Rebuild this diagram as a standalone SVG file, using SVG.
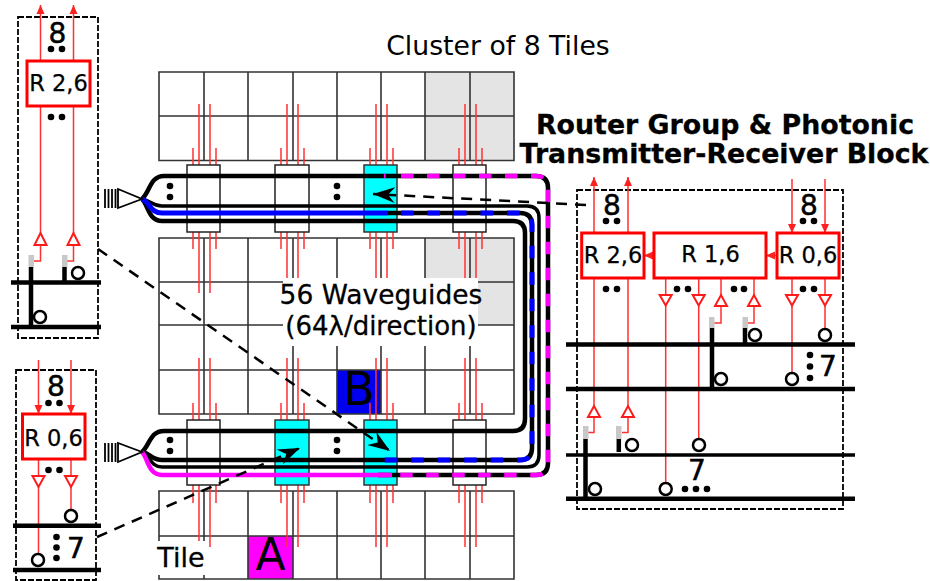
<svg xmlns="http://www.w3.org/2000/svg" width="930" height="581" viewBox="0 0 930 581">
<style>
text{font-family:"DejaVu Sans",sans-serif;fill:#000;text-anchor:middle}
.g{fill:none;stroke:#333;stroke-width:1.6}
.gray{fill:#e4e4e4}
.rs{fill:#fff;stroke:#222;stroke-width:1.5}
.rc{fill:#00ffff;stroke:#333;stroke-width:1.5}
.red{fill:none;stroke:#ff3030;stroke-width:1.5}
.tri{fill:#fff;stroke:#ff1a1a;stroke-width:2}
.rt{fill:#fff;stroke:#ff0000;stroke-width:3}
.rl{font-size:22.500px;stroke:#000;stroke-width:.25}
.n{font-size:28px;stroke:#000;stroke-width:.5}
.t{stroke:#000;stroke-width:.3}
.bk{fill:none;stroke:#000}
.bar{fill:none;stroke:#000;stroke-width:4.500}
.grey{fill:#c8c8c8}
.c{fill:#fff;stroke:#000;stroke-width:2.500}
.pan{fill:none;stroke:#000;stroke-width:1.800;stroke-dasharray:6 2}
.lead{fill:none;stroke:#000;stroke-width:2.500;stroke-dasharray:11 8}
.bow{fill:#fff;stroke:#000;stroke-width:1.800}
.gr{stroke:#000;stroke-width:1.800}
</style>
<defs>
<marker id="ah" markerUnits="userSpaceOnUse" markerWidth="10" markerHeight="10" refX="9" refY="5" orient="auto"><path d="M0,1 L9,5 L0,9 Z" fill="#ff2020"/></marker>
<marker id="st" markerUnits="userSpaceOnUse" markerWidth="24" markerHeight="18" refX="22" refY="9" orient="auto"><path d="M0,1 L22,9 L0,17 L7,9 Z" fill="#000"/></marker>
<circle id="d" r="3.300" fill="#000"/>
<g id="upper"><path class="red" d="M-6,148V165M0,104V165M11,104V165M17,148V165"/></g>
<g id="lower"><path class="red" d="M-6,232V249M0,232V293M11,232V293M17,232V249"/></g>
<g id="upper2"><path class="red" d="M-6,403V420M0,358V420M11,358V420M17,403V420"/></g>
<g id="lower2"><path class="red" d="M-6,485V503M0,485V547M11,485V547M17,485V503"/></g>
</defs>

<g id="tiles">
<rect class="gray" x="425" y="72" width="89" height="88"/>
<rect class="gray" x="425" y="238" width="89" height="87"/>
<rect x="337" y="370" width="44" height="44" fill="#0000ee"/>
<rect x="248" y="536" width="45" height="43" fill="#ff00ff"/>
<path class="g" d="M159,72H514V160.500H159ZM159,116H514M204,72V160.500M248,72V160.500M293,72V160.500M337,72V160.500M381,72V160.500M425,72V160.500M470,72V160.500"/>
<path class="g" d="M159,238H514V414H159ZM159,282H514M159,325H514M159,370H514M204,238V414M248,238V414M293,238V414M337,238V414M381,238V414M425,238V414M470,238V414"/>
<path class="g" d="M159,491H514V579H159ZM159,536H514M204,491V579M248,491V579M293,491V579M337,491V579M381,491V579M425,491V579M470,491V579"/>
</g>

<g id="ticks">
<use href="#upper" x="199"/><use href="#upper" x="287"/><use href="#upper" x="376"/><use href="#upper" x="465"/>
<use href="#lower" x="199"/><use href="#lower" x="287"/><use href="#lower" x="376"/><use href="#lower" x="465"/>
<use href="#upper2" x="199"/><use href="#upper2" x="287"/><use href="#upper2" x="376"/><use href="#upper2" x="465"/>
<use href="#lower2" x="199"/><use href="#lower2" x="287"/><use href="#lower2" x="376"/><use href="#lower2" x="465"/>
</g>

<g id="site-top-1"><rect class="rs" x="187" y="165" width="33" height="67"/></g>
<g id="site-top-2"><rect class="rs" x="275" y="165" width="34" height="67"/></g>
<g id="site-top-3"><rect class="rc" x="364" y="165" width="33" height="67"/></g>
<g id="site-top-4"><rect class="rs" x="453" y="165" width="33" height="67"/></g>
<g id="site-bottom-1"><rect class="rs" x="187" y="420" width="33" height="65"/></g>
<g id="site-bottom-2"><rect class="rc" x="275" y="420" width="34" height="65"/></g>
<g id="site-bottom-3"><rect class="rc" x="364" y="420" width="33" height="65"/></g>
<g id="site-bottom-4"><rect class="rs" x="453" y="420" width="33" height="65"/></g>

<g id="labels">
<rect x="283" y="278" width="195" height="68" fill="#fff"/>
<rect x="157" y="541" width="48" height="34" fill="#fff"/>
<text class="t" x="381" y="304" font-size="26.500">56 Waveguides</text>
<text class="t" x="381" y="335" font-size="26">(64λ/direction)</text>
<text class="t" x="181" y="567" font-size="27">Tile</text>
<text x="270.500" y="570" font-size="44">A</text>
<text x="359" y="405" font-size="46">B</text>
<text x="498" y="55" font-size="26.700">Cluster of 8 Tiles</text>
<text class="t" x="725" y="134" font-size="26.800" font-weight="bold">Router Group &amp; Photonic</text>
<text class="t" x="724" y="163" font-size="26.800" font-weight="bold">Transmitter-Receiver Block</text>
</g>

<g id="connectors">
<path class="bk" stroke-width="4.500" d="M142,199C150,192 150,176 164,176H536Q548,176 548,188V463Q548,475 536,475H378"/>
<path class="bk" stroke-width="4.500" d="M142,199C148,204 148,221 162,221H513Q525,221 525,233V419Q525,431 513,431H164C150,431 150,445 142,452"/>
<path class="bk" stroke-width="3.500" d="M142,199C150,200 152,206 162,206H527Q539,206 539,218V455Q539,467 527,467H162C150,467 150,455 142,452"/>
<path class="bk" stroke-width="4.500" d="M388,213H520Q532,213 532,225V448Q532,460 520,460H162C152,460 150,453 142,452"/>
<path fill="none" stroke="#0000ff" stroke-width="5" d="M142,199C150,202 150,213 162,213H388"/>
<path fill="none" stroke="#0000ff" stroke-width="5" stroke-dasharray="12.500 14" d="M401,213H520Q532,213 532,225V448Q532,460 520,460H383"/>
<path fill="none" stroke="#ff00ff" stroke-width="4.500" stroke-dasharray="12.500 13.500" d="M401,176H536Q548,176 548,188V463Q548,475 536,475H378"/>
<path fill="none" stroke="#ff00ff" stroke-width="4.500" d="M384,176H385.500M142,452C148,458 148,475 162,475H392"/>
<path class="lead" d="M98,249L390,451" marker-end="url(#st)"/>
<path class="lead" d="M97,537L300,448" marker-end="url(#st)"/>
<path class="lead" d="M586,205L373,194" marker-end="url(#st)"/>
</g>

<g id="coupler-top">
<path class="gr" d="M105,189V208M108.500,189V208M112,189V208M115.500,189V208"/>
<path class="bow" d="M118,189V208L142,199Z"/>
<use href="#d" x="170" y="186"/><use href="#d" x="170" y="197"/>
<use href="#d" x="337" y="186"/><use href="#d" x="337" y="197"/>
</g>
<g id="coupler-bottom">
<path class="gr" d="M105,443V462M108.500,443V462M112,443V462M115.500,443V462"/>
<path class="bow" d="M118,443V462L142,452Z"/>
<use href="#d" x="170" y="440"/><use href="#d" x="170" y="451"/>
<use href="#d" x="337" y="440"/><use href="#d" x="337" y="451"/>
</g>

<g id="panel-r26">
<rect class="pan" x="18" y="17" width="80" height="321"/>
<path class="red" d="M40.500,61V5" marker-end="url(#ah)"/>
<path class="red" d="M73.500,61V5" marker-end="url(#ah)"/>
<path class="red" d="M40.500,106V233M40.500,245V261H34M73.500,106V233M73.500,245V261H67"/>
<path class="tri" d="M34.500,245H46.500L40.500,233Z"/>
<path class="tri" d="M67.500,245H79.500L73.500,233Z"/>
<rect class="rt" x="27" y="61" width="63" height="45"/>
<text class="rl" x="58.500" y="91">R 2,6</text>
<text class="n" x="57.500" y="43">8</text>
<use href="#d" x="51" y="49"/><use href="#d" x="62" y="49"/>
<use href="#d" x="51" y="117"/><use href="#d" x="62" y="117"/>
<rect class="grey" x="28.500" y="255" width="5.500" height="12"/>
<rect class="grey" x="62" y="255" width="5.500" height="12"/>
<path class="bar" d="M11,282.500H101M11,327H101M31,267V327M64.500,267V282"/>
<circle class="c" cx="78" cy="273" r="6"/>
<circle class="c" cx="40" cy="317" r="6"/>
</g>

<g id="panel-r06">
<rect class="pan" x="16" y="370" width="80" height="210"/>
<path class="red" d="M38.500,360V414" marker-end="url(#ah)"/>
<path class="red" d="M71,360V414" marker-end="url(#ah)"/>
<path class="red" d="M38.500,459V476M38.500,487V554M71,459V476M71,487V510"/>
<path class="tri" d="M32.500,476H44.500L38.500,487Z"/>
<path class="tri" d="M65,476H77L71,487Z"/>
<rect class="rt" x="22.500" y="414" width="62.500" height="45"/>
<text class="rl" x="53.500" y="446">R 0,6</text>
<text class="n" x="56" y="396">8</text>
<use href="#d" x="48.500" y="403"/><use href="#d" x="59.500" y="403"/>
<use href="#d" x="48.500" y="470"/><use href="#d" x="59.500" y="470"/>
<path class="bar" d="M13,525.700H101M13,570H101"/>
<circle class="c" cx="71" cy="516" r="6"/>
<circle class="c" cx="38" cy="560" r="6"/>
<use href="#d" x="56.500" y="537"/><use href="#d" x="56.500" y="547.500"/><use href="#d" x="56.500" y="558"/>
<text class="n" x="76" y="558">7</text>
</g>

<g id="panel-block">
<rect class="pan" x="577" y="190" width="266" height="319"/>
<path class="red" d="M594,233V177" marker-end="url(#ah)"/>
<path class="red" d="M628,233V177" marker-end="url(#ah)"/>
<path class="red" d="M792,179V233" marker-end="url(#ah)"/>
<path class="red" d="M825,179V233" marker-end="url(#ah)"/>
<path class="red" d="M654,255.500H644" marker-end="url(#ah)"/>
<path class="red" d="M777,255.500H766" marker-end="url(#ah)"/>
<path class="red" d="M594,278V406M594,417V432.500H588M628,278V406M628,417V432.500H622M665.700,278V295M665.700,305.500V483M698.700,278V295M698.700,305.500V439M721,278V295M721,306V323H714M754,278V295M754,306V323H747.500M792,278V295M792,305.500V373M825,278V295M825,305.500V329"/>
<path class="tri" d="M659.700,295H671.700L665.700,305.500Z"/>
<path class="tri" d="M692.700,295H704.700L698.700,305.500Z"/>
<path class="tri" d="M786,295H798L792,305.500Z"/>
<path class="tri" d="M819,295H831L825,305.500Z"/>
<path class="tri" d="M715,306H727L721,295Z"/>
<path class="tri" d="M748,306H760L754,295Z"/>
<path class="tri" d="M588,417H600L594,406Z"/>
<path class="tri" d="M622,417H634L628,406Z"/>
<rect class="rt" x="581.700" y="233" width="62.300" height="45"/>
<rect class="rt" x="654" y="233" width="112" height="45"/>
<rect class="rt" x="777" y="233" width="62" height="45"/>
<text class="rl" x="613" y="263">R 2,6</text>
<text class="rl" x="710.500" y="262">R 1,6</text>
<text class="rl" x="808" y="263">R 0,6</text>
<text class="n" x="612" y="215">8</text>
<text class="n" x="809" y="215">8</text>
<use href="#d" x="606" y="221"/><use href="#d" x="617" y="221"/>
<use href="#d" x="803" y="221"/><use href="#d" x="814" y="221"/>
<use href="#d" x="606" y="289"/><use href="#d" x="617" y="289"/>
<use href="#d" x="677" y="289"/><use href="#d" x="688" y="289"/>
<use href="#d" x="734" y="289"/><use href="#d" x="744" y="289"/>
<use href="#d" x="803" y="289"/><use href="#d" x="814" y="289"/>
<rect class="grey" x="709" y="317" width="5.500" height="11"/>
<rect class="grey" x="742.500" y="317" width="5.500" height="11"/>
<rect class="grey" x="583" y="426" width="5.500" height="13"/>
<rect class="grey" x="616" y="426" width="5.500" height="13"/>
<path class="bar" d="M566,344.500H855M566,389H855M566,498.700H855M712,328V389M745,328V344M585.500,439V499M618.800,439V452"/>
<path fill="none" stroke="#000" stroke-width="3.500" d="M566,455H855"/>
<circle class="c" cx="755" cy="335" r="6"/>
<circle class="c" cx="825" cy="335" r="6"/>
<circle class="c" cx="721" cy="379" r="6"/>
<circle class="c" cx="792" cy="379" r="6"/>
<circle class="c" cx="632" cy="445" r="6"/>
<circle class="c" cx="699" cy="445" r="6"/>
<circle class="c" cx="595" cy="489" r="6"/>
<circle class="c" cx="665.700" cy="489" r="6"/>
<use href="#d" x="810" y="355"/><use href="#d" x="810" y="366.500"/><use href="#d" x="810" y="378"/>
<text class="n" x="828" y="376">7</text>
<use href="#d" x="685" y="489"/><use href="#d" x="696" y="489"/><use href="#d" x="707" y="489"/>
<text class="n" x="697" y="480">7</text>
</g>
</svg>
